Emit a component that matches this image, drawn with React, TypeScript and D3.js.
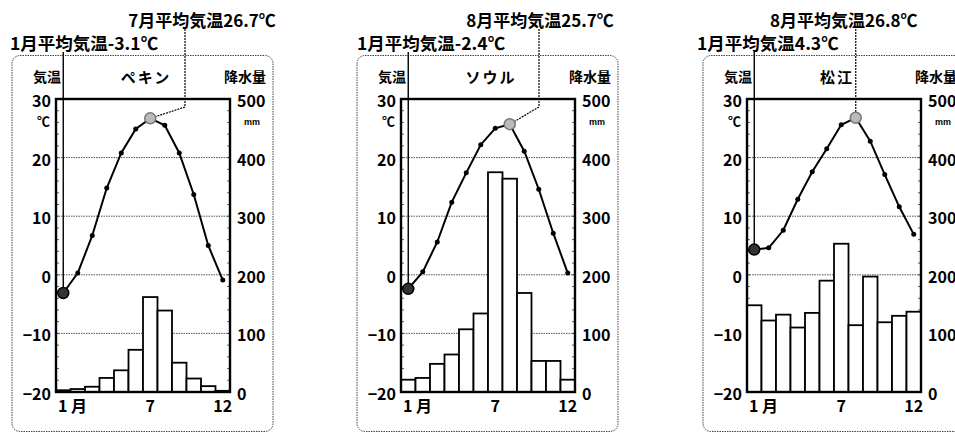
import React, { useEffect, useRef } from 'react';
import * as d3 from 'd3';

const months = [1, 2, 3, 4, 5, 6, 7, 8, 9, 10, 11, 12];
const monthTicks = [
  { m: 1, label: '1 月' },
  { m: 7, label: '7' },
  { m: 12, label: '12' }
];
const tempTicks = [30, 20, 10, 0, -10, -20];
const precTicks = [500, 400, 300, 200, 100, 0];

const pekinTemp = [-3.1, 0.3, 6.7, 14.8, 20.8, 24.9, 26.7, 25.5, 20.8, 13.7, 5.0, -0.9];
const pekinPrec = [3, 5, 9, 24, 37, 72, 162, 139, 50, 23, 10, 2];

const seoulTemp = [-2.4, 0.5, 5.6, 12.4, 17.4, 22.2, 25.0, 25.7, 21.1, 14.6, 7.1, 0.3];
const seoulPrec = [21, 24, 48, 64, 107, 134, 375, 364, 169, 53, 53, 21];

const matsueTemp = [4.3, 4.6, 7.6, 12.9, 17.6, 21.5, 25.6, 26.8, 22.8, 17.1, 11.6, 6.9];
const matsuePrec = [148, 122, 132, 110, 135, 190, 253, 114, 197, 119, 130, 137];

const cities = [
  { name: 'ペキン', temp: pekinTemp, prec: pekinPrec, peak: 7, janLabel: '1月平均気温-3.1℃', peakLabel: '7月平均気温26.7℃', knee: 129, peakShift: 17, janShift: -2 },
  { name: 'ソウル', temp: seoulTemp, prec: seoulPrec, peak: 8, janLabel: '1月平均気温-2.4℃', peakLabel: '8月平均気温25.7℃', knee: 138, peakShift: 1, janShift: 0 },
  { name: '松江', temp: matsueTemp, prec: matsuePrec, peak: 8, janLabel: '1月平均気温4.3℃', peakLabel: '8月平均気温26.8℃', knee: null, peakShift: -12, janShift: -6 }
];

const frameLeft = [12, 357, 703];
const W = 955;
const H = 435;
const font = '"Noto Sans CJK JP", "Liberation Sans", sans-serif';

const App = () => {
  const container = useRef(null);

  useEffect(() => {
    const svg = d3
      .select(container.current)
      .selectAll('svg')
      .data([0])
      .join('svg')
      .attr('width', W)
      .attr('height', H)
      .style('position', 'absolute')
      .style('left', 0)
      .style('top', 0)
      .style('background', '#fff');

    svg.selectAll('*').remove();

    const top = 99;
    const bottom = 392;
    const plotW = 174;

    cities.forEach((c, ci) => {
      const fx = frameLeft[ci];
      const left = fx + 44;
      const g = svg.append('g');

      const x = d3
        .scaleBand()
        .domain(months.map(String))
        .range([left, left + plotW])
        .padding(0);
      const cx = m => x(String(m)) + x.bandwidth() / 2;
      const yT = d3.scaleLinear().domain([-20, 30]).range([bottom, top]);
      const yP = d3.scaleLinear().domain([0, 500]).range([bottom, top]);

      // frame
      g.append('rect')
        .attr('x', fx)
        .attr('y', 55.5)
        .attr('width', 261)
        .attr('height', 376)
        .attr('rx', 8)
        .style('fill', 'none')
        .style('stroke', '#444')
        .style('stroke-width', 1)
        .style('stroke-dasharray', '1.5,1');

      // headers
      g.append('text')
        .attr('x', fx + 35)
        .attr('y', 82)
        .attr('text-anchor', 'middle')
        .style('font-family', font)
        .style('font-size', '14px')
        .style('font-weight', 'bold')
        .text('気温');
      g.append('text')
        .attr('x', left + plotW / 2 + 3)
        .attr('y', 83)
        .attr('text-anchor', 'middle')
        .style('font-family', font)
        .style('font-size', '15px')
        .style('font-weight', 'bold')
        .style('letter-spacing', '2px')
        .text(c.name);
      g.append('text')
        .attr('x', left + plotW + 15)
        .attr('y', 82)
        .attr('text-anchor', 'middle')
        .style('font-family', font)
        .style('font-size', '14px')
        .style('font-weight', 'bold')
        .text('降水量');

      // grid
      g.selectAll('.grid')
        .data([20, 10, 0, -10])
        .join('line')
        .attr('x1', left)
        .attr('x2', left + plotW)
        .attr('y1', d => yT(d))
        .attr('y2', d => yT(d))
        .style('stroke', '#555')
        .style('stroke-width', 1)
        .style('stroke-dasharray', '1.5,1');

      // small inner ticks
      const minor = d3.range(-20, 31, 2);
      g.selectAll('.tl')
        .data(minor)
        .join('line')
        .attr('x1', left)
        .attr('x2', left + 3)
        .attr('y1', d => yT(d))
        .attr('y2', d => yT(d))
        .style('stroke', '#333')
        .style('stroke-width', 0.8);
      g.selectAll('.tr')
        .data(minor)
        .join('line')
        .attr('x1', left + plotW - 3)
        .attr('x2', left + plotW)
        .attr('y1', d => yT(d))
        .attr('y2', d => yT(d))
        .style('stroke', '#333')
        .style('stroke-width', 0.8);

      // bars
      g.selectAll('.bar')
        .data(c.prec)
        .join('rect')
        .attr('x', (d, i) => x(String(months[i])))
        .attr('y', d => yP(d))
        .attr('width', x.bandwidth())
        .attr('height', d => yP(0) - yP(d))
        .style('fill', '#fff')
        .style('stroke', '#000')
        .style('stroke-width', 1.8);

      // plot box
      g.append('rect')
        .attr('x', left)
        .attr('y', top)
        .attr('width', plotW)
        .attr('height', bottom - top)
        .style('fill', 'none')
        .style('stroke', '#000')
        .style('stroke-width', 2.4);

      // tick labels
      g.selectAll('.lt')
        .data(tempTicks)
        .join('text')
        .attr('x', left - 5)
        .attr('y', d => yT(d) + 8)
        .attr('text-anchor', 'end')
        .style('font-family', font)
        .style('font-size', '16px')
        .style('font-weight', 'bold')
        .text(d => (d < 0 ? '−' + Math.abs(d) : d));
      g.selectAll('.rt')
        .data(precTicks)
        .join('text')
        .attr('x', left + plotW + 7)
        .attr('y', d => yP(d) + 8)
        .style('font-family', font)
        .style('font-size', '16px')
        .style('font-weight', 'bold')
        .text(d => d);
      g.append('text')
        .attr('x', left - 6)
        .attr('y', top + 27)
        .attr('text-anchor', 'end')
        .style('font-family', font)
        .style('font-size', '13px')
        .style('font-weight', 'bold')
        .text('℃');
      g.append('text')
        .attr('x', left + plotW + 14)
        .attr('y', top + 26)
        .style('font-family', '"Liberation Sans", sans-serif')
        .style('font-size', '9px')
        .style('font-weight', 'bold')
        .text('mm');
      g.selectAll('.xt')
        .data(monthTicks)
        .join('text')
        .attr('x', d => (d.m === 1 ? left + 2 : cx(d.m)))
        .attr('y', bottom + 20)
        .attr('text-anchor', d => (d.m === 1 ? 'start' : 'middle'))
        .style('font-family', font)
        .style('font-size', '16px')
        .style('font-weight', 'bold')
        .text(d => d.label);

      // temperature line
      const line = d3
        .line()
        .x((d, i) => cx(months[i]))
        .y(d => yT(d));
      g.append('path')
        .attr('d', line(c.temp))
        .style('fill', 'none')
        .style('stroke', '#000')
        .style('stroke-width', 2);
      g.selectAll('.dot')
        .data(c.temp)
        .join('circle')
        .attr('cx', (d, i) => cx(months[i]))
        .attr('cy', d => yT(d))
        .attr('r', 2.5)
        .style('fill', '#000');

      // annotations
      const janX = cx(1);
      const janY = yT(c.temp[0]);
      g.append('line')
        .attr('x1', janX)
        .attr('x2', janX)
        .attr('y1', 52)
        .attr('y2', janY)
        .style('stroke', '#000')
        .style('stroke-width', 1.4);
      g.append('text')
        .attr('x', fx + c.janShift)
        .attr('y', 50)
        .style('font-family', font)
        .style('font-size', '17.5px')
        .style('font-weight', 'bold')
        .text(c.janLabel);

      const pkX = cx(c.peak);
      const pkY = yT(c.temp[c.peak - 1]);
      const kneeX = c.knee == null ? pkX : left + c.knee;
      const path = d3.path();
      path.moveTo(kneeX, 29);
      if (c.knee == null) {
        path.lineTo(pkX, pkY);
      } else {
        path.lineTo(kneeX, top + 8);
        path.lineTo(pkX, pkY);
      }
      g.append('path')
        .attr('d', path.toString())
        .style('fill', 'none')
        .style('stroke', '#000')
        .style('stroke-width', 1.2)
        .style('stroke-dasharray', '2,1');
      g.append('text')
        .attr('x', kneeX + c.peakShift)
        .attr('y', 27)
        .attr('text-anchor', 'middle')
        .style('font-family', font)
        .style('font-size', '17px')
        .style('font-weight', 'bold')
        .text(c.peakLabel);

      g.append('circle')
        .attr('cx', janX)
        .attr('cy', janY)
        .attr('r', 5.5)
        .style('fill', '#333')
        .style('stroke', '#000')
        .style('stroke-width', 1.5);
      g.append('circle')
        .attr('cx', pkX)
        .attr('cy', pkY)
        .attr('r', 5.5)
        .style('fill', '#bbb')
        .style('stroke', '#777')
        .style('stroke-width', 1.5);
    });
  }, []);

  return <div ref={container}></div>;
};

export default App;
